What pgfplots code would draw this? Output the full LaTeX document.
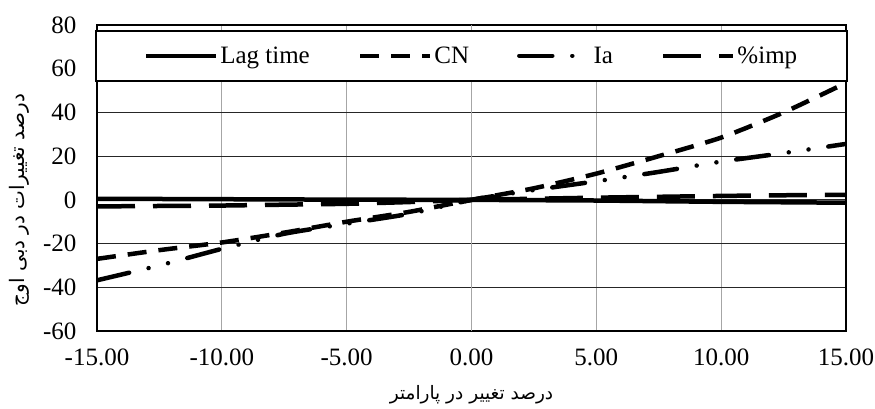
\documentclass[border=0pt]{standalone}
\usepackage{pgfplots}
\pgfplotsset{compat=1.18}
\usepackage{pgfplotstable}
\usepackage{fontspec}
\setmainfont{Liberation Serif}
\newfontfamily\arabicfont[Script=Arabic]{DejaVu Sans}
\TeXXeTstate=1

% x  lag  cn  ia  imp  (percent change)
\pgfplotstableread{
x      lag    cn     ia     imp
-15    0.5   -27.0  -36.8  -3.0
-12.5  0.4   -23.0  -30.0  -2.8
-10    0.3   -19.5  -22.4  -2.6
-7.5   0.2   -15.0  -15.5  -2.2
-5     0.1   -10.0  -10.9  -1.8
-2.5   0.05   -5.5   -6.4  -1.0
0      0.0     0.0    0.0   0.0
2.5   -0.15    5.3    4.5   0.5
5     -0.3    12.0    8.5   1.0
7.5   -0.6    20.0   12.8   1.4
10    -0.9    28.5   17.5   1.8
12.5  -1.1    40.0   21.4   2.1
15    -1.3    53.5   25.6   2.3
}\sens

\begin{document}
\begin{tikzpicture}
\useasboundingbox (-97pt,-77pt) rectangle (778pt,331pt);
\begin{axis}[
  at={(0,0)}, anchor=south west,
  scale only axis,
  width=749pt, height=306pt,
  xmin=-15, xmax=15, ymin=-60, ymax=80,
  xtick={-15,-10,...,15},
  xticklabels={-15.00,-10.00,-5.00,0.00,5.00,10.00,15.00},
  ytick={-60,-40,...,80},
  yticklabels={-60,-40,-20,0,20,40,60,80},
  major tick length=0pt,
  tick label style={font=\fontsize{25}{28}\selectfont},
  xticklabel style={yshift=-14pt},
  yticklabel style={xshift=-17pt},
  axis line style={line width=1.5pt},
  grid=major,
  x grid style={gray!70, line width=1pt},
  y grid style={black!85, line width=1pt},
  extra x ticks={0},
  extra x tick labels={},
  extra x tick style={grid style={black, line width=1.3pt}},
  xlabel={\arabicfont\beginR درصد تغییر در پارامتر\endR},
  ylabel={\arabicfont\beginR درصد تغییرات در دبی اوج\endR},
  every axis x label/.style={at={(axis description cs:0.5,0)}, yshift=-64pt, anchor=center, font=\fontsize{18.5}{22}\selectfont},
  every axis y label/.style={at={(axis description cs:0,0.428)}, xshift=-78pt, rotate=90, anchor=center, font=\fontsize{20}{24}\selectfont},
  legend columns=4,
  legend image code/.code={\draw[#1] (0pt,0pt) -- (70pt,0pt);},
  legend style={at={(axis description cs:0.5,1)}, yshift=-5pt, anchor=north,
    font=\fontsize{25}{28}\selectfont, line width=1.5pt, draw=black, fill=white,
    inner xsep=48pt, inner ysep=14pt,
    /tikz/every even column/.append style={column sep=46pt}},
  legend cell align=left,
  every axis plot/.append style={smooth, tension=0.4, black},
]
\addplot[line width=4.5pt] table[x=x, y=lag] {\sens};
\addlegendentry{Lag time}
\addplot[line width=4.5pt, dash pattern=on 19pt off 12pt] table[x=x, y=cn] {\sens};
\addlegendentry{CN}
\addplot[line width=4.5pt, line cap=round, dash pattern=on 33pt off 20pt on 0.01pt off 20pt on 0.01pt off 20pt] table[x=x, y=ia] {\sens};
\addlegendentry{Ia}
\addplot[line width=4.5pt, dash pattern=on 38pt off 18pt] table[x=x, y=imp] {\sens};
\addlegendentry{\%imp}
\end{axis}
\end{tikzpicture}
\end{document}
